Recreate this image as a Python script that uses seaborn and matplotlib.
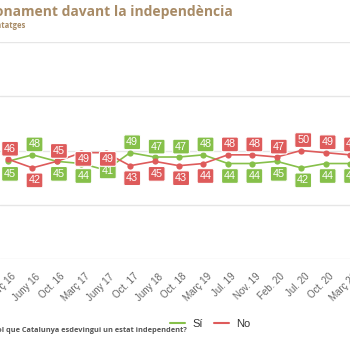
import numpy as np
import pandas as pd
import matplotlib
matplotlib.use("Agg")
import matplotlib.pyplot as plt
import matplotlib.transforms as mtransforms
import seaborn as sns

# data
dates = ["Març 16", "Juny 16", "Oct. 16", "Març 17", "Juny 17", "Oct. 17",
         "Juny 18", "Oct. 18", "Març 19", "Jul. 19", "Nov. 19", "Feb. 20",
         "Jul. 20", "Oct. 20", "Març 21"]
si = [45, 48, 45, 44, 41, 49, 47, 47, 48, 44, 44, 45, 42, 44, 44]
no = [46, 42, 45, 49, 49, 43, 45, 43, 44, 48, 48, 47, 50, 49, 48]

GREEN = "#86c04a"
RED = "#de5b5b"
BROWN = "#a88b66"

sns.set_style("white")
plt.rcParams["font.family"] = ["Liberation Sans", "DejaVu Sans"]

df = pd.DataFrame({
    "i": list(range(len(dates))) * 2,
    "val": si + no,
    "serie": ["Sí"] * len(si) + ["No"] * len(no),
})

fig = plt.figure(figsize=(3.5, 3.5), dpi=100)
ax = fig.add_axes([0, 91 / 350, 1, 217 / 350])

sns.lineplot(data=df, x="i", y="val", hue="serie", palette={"Sí": GREEN, "No": RED},
             hue_order=["Sí", "No"], marker="o", markersize=4.5, markeredgewidth=0,
             linewidth=1.2, ax=ax, legend=False, zorder=3)

ax.set_xlim(-8 / 24.5, 342 / 24.5)
ax.set_ylim(0, 100)
ax.set_yticks([0, 25, 50, 75, 100])
ax.set_yticklabels([])
ax.grid(axis="y", color="#e6e6e6", linewidth=1)
ax.tick_params(axis="y", length=0)
for s in ax.spines.values():
    s.set_visible(False)
ax.set_xlabel("")
ax.set_ylabel("")

ax.set_xticks(range(len(dates)))
ax.set_xticklabels(dates, rotation=45, ha="right", va="top", rotation_mode="anchor",
                   fontsize=7, color="#666666")
ax.tick_params(axis="x", length=0, pad=9)
shift = mtransforms.ScaledTranslation(3 / 100, 0, fig.dpi_scale_trans)
for lab in ax.get_xticklabels():
    lab.set_transform(lab.get_transform() + shift)

# value labels: higher value above, lower below
nudge = {("No", 3): -4.5, ("No", 4): -4.5, ("Sí", 4): -1}
for k in range(len(dates)):
    for name, vals, col, other in (("Sí", si, GREEN, no), ("No", no, RED, si)):
        v = vals[k]
        above = v > other[k] or (v == other[k] and name == "No")
        off = 7.5 if above else -9
        off = nudge.get((name, k), off)
        ax.annotate(str(v), (k, v), xytext=(1.5, off), textcoords="offset points",
                    ha="center", va="center", fontsize=7.8, color="white", zorder=5,
                    bbox=dict(boxstyle="round,pad=0.22,rounding_size=0.15", fc=col,
                              ec="white", lw=0.8))

# titles and notes
fig.text(233 / 350, 1 - 12 / 350, "Posicionament davant la independència",
         ha="right", va="center", fontsize=10, fontweight="bold", color=BROWN,
         family=["Open Sans", "DejaVu Sans"])
fig.text(26 / 350, 1 - 25 / 350, "Percentatges", ha="right", va="center",
         fontsize=5.5, fontweight="bold", color=BROWN, family=["Open Sans", "DejaVu Sans"])
fig.text(187 / 350, 1 - 331 / 350, "Pregunta: vol que Catalunya esdevingui un estat independent?",
         ha="right", va="center", fontsize=5.3, fontweight="bold", color="#555555",
         family=["Open Sans", "DejaVu Sans"])

handles = [plt.Line2D([], [], color=GREEN, lw=1.5), plt.Line2D([], [], color=RED, lw=1.5)]
fig.legend(handles, ["Sí", "No"], loc="center", bbox_to_anchor=(210 / 350, 1 - 324 / 350),
           ncol=2, frameon=False, fontsize=8, handlelength=1.4, handletextpad=0.6,
           columnspacing=1.0, labelcolor="#333333")

fig.savefig("out.png", dpi=100)
